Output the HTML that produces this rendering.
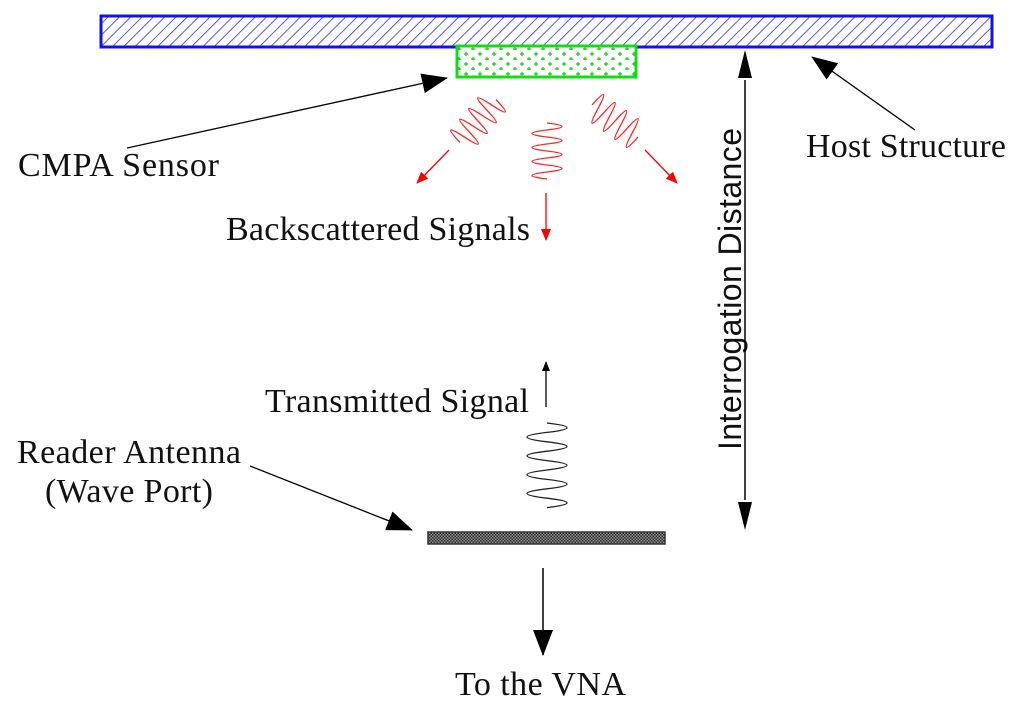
<!DOCTYPE html>
<html><head><style>body{margin:0;background:#fff}svg{display:block}</style></head><body>
<svg width="1024" height="712" viewBox="0 0 1024 712" xmlns="http://www.w3.org/2000/svg">
<defs>
<pattern id="hatch" width="8" height="8" patternUnits="userSpaceOnUse" patternTransform="rotate(45)">
<line x1="0" y1="0" x2="0" y2="8" stroke="#2233ee" stroke-width="1.6"/></pattern>
<pattern id="dots" width="14" height="10" patternUnits="userSpaceOnUse">
<path d="M4 2v4M2 4h4M11 7v4M9 9h4" stroke="#11cc11" stroke-width="1.2"/></pattern>
<pattern id="chk" width="3" height="3" patternUnits="userSpaceOnUse">
<rect width="3" height="3" fill="#999"/><rect width="1.5" height="1.5" fill="#222"/><rect x="1.5" y="1.5" width="1.5" height="1.5" fill="#222"/></pattern>
<marker id="ab" markerWidth="10" markerHeight="8" refX="9" refY="4" orient="auto" markerUnits="userSpaceOnUse"><path d="M0 0L10 4L0 8z" fill="#000"/></marker>
<marker id="abig" markerWidth="26" markerHeight="20" refX="25" refY="10" orient="auto" markerUnits="userSpaceOnUse"><path d="M0 0L26 10L0 20z" fill="#000"/></marker>
<marker id="ar" markerWidth="12" markerHeight="10" refX="11" refY="5" orient="auto" markerUnits="userSpaceOnUse"><path d="M0 0L12 5L0 10z" fill="#f00"/></marker>
<path id="wv" d="M0 -28q30 3.5 0 7q-30 3.5 0 7q30 3.5 0 7q-30 3.5 0 7q30 3.5 0 7q-30 3.5 0 7q30 3.5 0 7q-30 3.5 0 7"/>
</defs>
<rect x="101" y="16" width="891" height="31" fill="url(#hatch)" stroke="#1111ee" stroke-width="3"/>
<rect x="457" y="46" width="179" height="31" fill="#fff"/>
<rect x="457" y="46" width="179" height="31" fill="url(#dots)" stroke="#11dd11" stroke-width="3"/>
<rect x="428" y="532" width="237" height="12" fill="url(#chk)" stroke="#333" stroke-width="1.5"/>
<g font-family="Liberation Serif, serif" font-size="34" fill="#111">
<text x="18" y="176" textLength="201">CMPA Sensor</text>
<text x="806" y="157" textLength="200">Host Structure</text>
<text x="226" y="240" textLength="304">Backscattered Signals</text>
<text x="265" y="412" textLength="264">Transmitted Signal</text>
<text x="17" y="463" textLength="224">Reader Antenna</text>
<text x="45" y="502" textLength="168">(Wave Port)</text>
<text x="455" y="695" textLength="171">To the VNA</text>
</g>
<text x="0" y="0" font-family="Liberation Sans, sans-serif" font-size="32" fill="#111" text-anchor="middle" textLength="322" transform="translate(741 289) rotate(-90)">Interrogation Distance</text>
<line x1="127" y1="148" x2="447" y2="78" stroke="#000" stroke-width="1.3" marker-end="url(#abig)"/>
<line x1="915" y1="130" x2="812" y2="57" stroke="#000" stroke-width="1.3" marker-end="url(#abig)"/>
<line x1="250" y1="466" x2="412" y2="530" stroke="#000" stroke-width="1.3" marker-end="url(#abig)"/>
<line x1="745" y1="80" x2="745" y2="500" stroke="#000" stroke-width="1.5"/>
<path d="M745 50L738 78L752 78z M745 530L738 502L752 502z" fill="#000"/>
<line x1="543" y1="568" x2="543" y2="655" stroke="#000" stroke-width="1.5" marker-end="url(#abig)"/>
<line x1="546" y1="407" x2="546" y2="362" stroke="#000" stroke-width="1.3" marker-end="url(#ab)"/>
<path d="M547 423q40 4.7 0 9.4q-40 4.7 0 9.4q40 4.7 0 9.4q-40 4.7 0 9.4q40 4.7 0 9.4q-40 4.7 0 9.4q40 4.7 0 9.4q-40 4.7 0 9.4q40 4.7 0 9.4" fill="none" stroke="#222" stroke-width="1.3"/>
<g fill="none" stroke="#f22" stroke-width="1.3">
<use href="#wv" transform="translate(547 151)"/>
<use href="#wv" transform="translate(478 121) rotate(40)"/>
<use href="#wv" transform="translate(615 121) rotate(-55)"/>
</g>
<line x1="449" y1="150" x2="417" y2="183" stroke="#f00" stroke-width="1.3" marker-end="url(#ar)"/>
<line x1="546" y1="193" x2="546" y2="240" stroke="#f00" stroke-width="1.3" marker-end="url(#ar)"/>
<line x1="645" y1="150" x2="677" y2="183" stroke="#f00" stroke-width="1.3" marker-end="url(#ar)"/>
</svg>
</body></html>
